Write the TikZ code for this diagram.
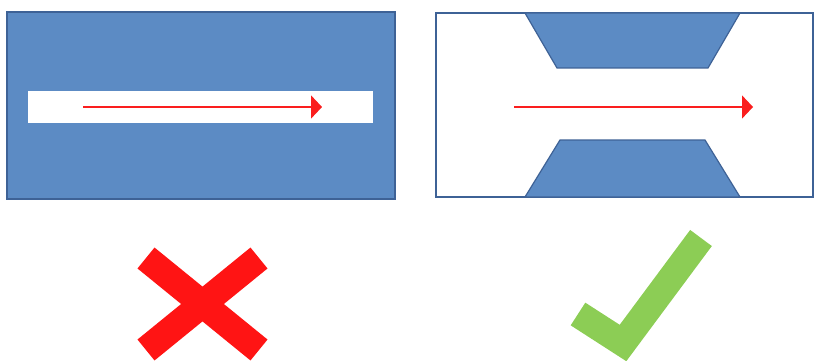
\documentclass[tikz,border=0pt]{standalone}
\usetikzlibrary{arrows.meta}
\definecolor{fillblue}{RGB}{92,139,196}
\definecolor{edgeblue}{RGB}{62,98,150}
\definecolor{arrred}{RGB}{250,30,30}
\definecolor{xred}{RGB}{255,20,20}
\definecolor{okgreen}{RGB}{140,205,85}
\tikzset{
  block/.style={fill=fillblue, draw=edgeblue, line width=1.2pt, line join=miter},
  flow/.style={draw=arrred, line width=1.6pt, -{Triangle[length=11pt,width=23pt]}},
  xmark/.style={draw=xred, line width=27pt, line cap=butt},
  okmark/.style={draw=okgreen, line width=27pt, line cap=butt, line join=miter}
}
\begin{document}
\begin{tikzpicture}[x=1pt,y=-1pt]
\useasboundingbox (0,0) rectangle (814,361);
\clip (0,0) rectangle (814,361);
% left: blocked channel
\draw[block] (7,12) rectangle (395,199);
\fill[white] (28,91) rectangle (373,123);
\coordinate (la) at (83,107);
\coordinate (lb) at (322,107);
\draw[flow] (la) -- (lb);
% right: open channel
\draw[draw=edgeblue, line width=1.2pt, fill=white] (436,13) rectangle (813,197);
\draw[block] (525,13) -- (740,13) -- (708,68) -- (557,68) -- cycle;
\draw[block] (560,140) -- (705,140) -- (740,197) -- (525,197) -- cycle;
\coordinate (ra) at (514,107);
\coordinate (rb) at (753,107);
\draw[flow] (ra) -- (rb);
% red X
\draw[xmark] (146,258) -- (259,350);
\draw[xmark] (259,258) -- (146,350);
% green check
\draw[okmark] (578,314) -- (623,343) -- (701,238);
\end{tikzpicture}
\end{document}
